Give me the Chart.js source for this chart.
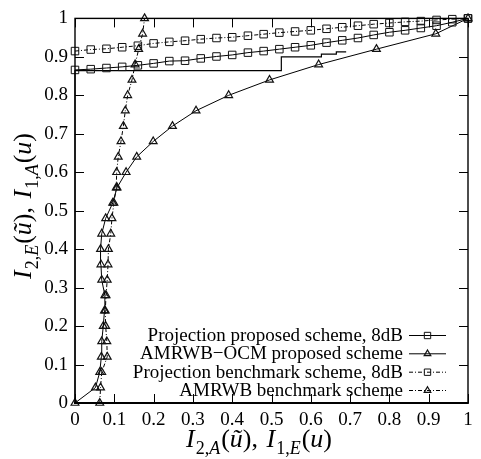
<!DOCTYPE html>
<html><head><meta charset="utf-8">
<script src="https://cdn.jsdelivr.net/npm/chart.js@4/dist/chart.umd.min.js"></script>
<style>html,body{margin:0;padding:0;background:#fff}#wrap{width:481px;height:459px}</style>
</head><body><div id="wrap"><canvas id="c" width="481" height="459"></canvas></div>
<script>
// Mutual-information sampling grid
const infoGrid = [0, 0.04, 0.08, 0.12, 0.16, 0.2, 0.24, 0.28, 0.32, 0.36, 0.4, 0.44, 0.48, 0.52, 0.56, 0.6, 0.64, 0.68, 0.72, 0.76, 0.8, 0.84, 0.88, 0.92, 0.96, 1];
// Projection proposed scheme, 8dB (x = infoGrid)
const projProposedY = [0.866, 0.868, 0.871, 0.874, 0.878, 0.883, 0.889, 0.890, 0.896, 0.901, 0.905, 0.911, 0.915, 0.920, 0.925, 0.930, 0.937, 0.943, 0.949, 0.957, 0.964, 0.969, 0.975, 0.981, 0.990, 1.0];
// AMRWB-OCM proposed scheme (y = infoGrid)
const ocmProposedX = [0, 0.052, 0.063, 0.067, 0.068, 0.072, 0.075, 0.076, 0.068, 0.066, 0.065, 0.068, 0.078, 0.096, 0.107, 0.130, 0.157, 0.199, 0.248, 0.308, 0.391, 0.495, 0.620, 0.767, 0.918, 1.0];
// Projection benchmark scheme, 8dB (x = infoGrid)
const projBenchY = [0.915, 0.919, 0.921, 0.925, 0.929, 0.935, 0.939, 0.942, 0.946, 0.949, 0.951, 0.955, 0.959, 0.963, 0.966, 0.969, 0.973, 0.977, 0.981, 0.985, 0.988, 0.991, 0.993, 0.996, 0.998, 1.0];
// AMRWB benchmark scheme (y = infoGrid)
const amrBenchX = [0.063, 0.065, 0.068, 0.082, 0.081, 0.078, 0.077, 0.079, 0.082, 0.084, 0.085, 0.091, 0.094, 0.099, 0.105, 0.106, 0.110, 0.117, 0.123, 0.128, 0.134, 0.145, 0.153, 0.162, 0.172, 0.177];
// Decoding trajectory
const trajX = [0, 0, 0.525, 0.525, 0.627, 0.627, 0.665, 0.665, 0.690];
const trajY = [0, 0.864, 0.864, 0.900, 0.900, 0.907, 0.907, 0.913, 0.913];

const seriesLabels = ['Projection proposed scheme, 8dB', 'AMRWB\u2212OCM proposed scheme', 'Projection benchmark scheme, 8dB', 'AMRWB benchmark scheme'];
const xTickLabels = ['0', '0.1', '0.2', '0.3', '0.4', '0.5', '0.6', '0.7', '0.8', '0.9', '1'];
const yTickLabels = ['0', '0.1', '0.2', '0.3', '0.4', '0.5', '0.6', '0.7', '0.8', '0.9', '1'];

const zip = (xs, ys) => xs.map((x, i) => ({x: x, y: ys[i]}));
const SERIF = '"Liberation Serif", "DejaVu Serif", serif';
const dashDot = [4, 2, 1, 2];

function series(label, pts, style, dash, r, bw) {
  return {
    label: label, data: pts, showLine: true, tension: 0,
    borderColor: '#000', borderWidth: 1, borderDash: dash,
    pointStyle: style, pointRadius: r, pointBorderWidth: bw,
    pointBackgroundColor: 'rgba(0,0,0,0)', pointBorderColor: '#111',
    clip: false
  };
}

const datasets = [
  series(seriesLabels[0], zip(infoGrid, projProposedY), 'rect', [], 5.3, 1),
  series(seriesLabels[1], zip(ocmProposedX, infoGrid), 'triangle', [], 4.5, 1.2),
  series(seriesLabels[2], zip(infoGrid, projBenchY), 'rect', dashDot, 5.3, 1),
  series(seriesLabels[3], zip(amrBenchX, infoGrid), 'triangle', dashDot, 4.5, 1.2),
  {label: 'trajectory', data: zip(trajX, trajY), showLine: true, tension: 0,
   borderColor: '#000', borderWidth: 1.2, pointRadius: 0, clip: false}
];

function layoutMath(ctx, parts, size) {
  const subSize = Math.round(size * 0.7);
  let w = 0;
  const items = parts.map(p => {
    const fs = p.sub ? subSize : size;
    ctx.font = (p.it ? 'italic ' : '') + fs + 'px ' + SERIF;
    const m = ctx.measureText(p.t).width + (p.gap || 0);
    const it = {p: p, font: ctx.font, x: w, dy: p.sub ? size * 0.28 : 0};
    w += m;
    return it;
  });
  return {w: w, items: items};
}
function renderMath(ctx, parts, size, cx, baseY) {
  const lay = layoutMath(ctx, parts, size);
  const x0 = cx - lay.w / 2;
  ctx.fillStyle = '#000';
  ctx.textBaseline = 'alphabetic';
  ctx.textAlign = 'left';
  lay.items.forEach(it => {
    ctx.font = it.font;
    ctx.fillText(it.p.t, x0 + it.x, baseY + it.dy);
  });
}
const xTitleParts = [
  {t: 'I', it: true, gap: 1}, {t: '2,', sub: true}, {t: 'A', sub: true, it: true, gap: 1},
  {t: '('}, {t: '\u0169', it: true}, {t: ')'}, {t: ', ', gap: 2},
  {t: 'I', it: true, gap: 1}, {t: '1,', sub: true}, {t: 'E', sub: true, it: true, gap: 1},
  {t: '('}, {t: 'u', it: true}, {t: ')'}
];
const yTitleParts = [
  {t: 'I', it: true, gap: 1}, {t: '2,', sub: true}, {t: 'E', sub: true, it: true, gap: 1},
  {t: '('}, {t: '\u0169', it: true}, {t: ')'}, {t: ', ', gap: 2},
  {t: 'I', it: true, gap: 1}, {t: '1,', sub: true}, {t: 'A', sub: true, it: true, gap: 1},
  {t: '('}, {t: 'u', it: true}, {t: ')'}
];

const decorPlugin = {
  id: 'decor',
  afterDatasetsDraw(chart) {
    const ctx = chart.ctx, a = chart.chartArea;
    const xs = chart.scales.x, ys = chart.scales.y;
    ctx.save();
    ctx.strokeStyle = '#000';
    ctx.lineWidth = 1;
    const tl = 9;
    xs.ticks.forEach(t => {
      const px = Math.round(xs.getPixelForValue(t.value)) + 0.5;
      ctx.beginPath();
      ctx.moveTo(px, a.bottom); ctx.lineTo(px, a.bottom - tl);
      ctx.moveTo(px, a.top); ctx.lineTo(px, a.top + tl);
      ctx.stroke();
    });
    ys.ticks.forEach(t => {
      const py = Math.round(ys.getPixelForValue(t.value)) + 0.5;
      ctx.beginPath();
      ctx.moveTo(a.left, py); ctx.lineTo(a.left + tl, py);
      ctx.moveTo(a.right, py); ctx.lineTo(a.right - tl, py);
      ctx.stroke();
    });
    ctx.lineWidth = 1.4;
    ctx.strokeRect(a.left, a.top, a.right - a.left, a.bottom - a.top);
    ctx.lineWidth = 2;
    ctx.beginPath(); ctx.moveTo(a.left - 1, a.bottom); ctx.lineTo(a.right + 0.7, a.bottom); ctx.stroke();

    // legend
    const rows = [335, 353.3, 371.7, 390];
    ctx.font = '19px ' + SERIF;
    ctx.textAlign = 'right';
    ctx.textBaseline = 'middle';
    for (let i = 0; i < 4; i++) {
      const ds = chart.data.datasets[i];
      const y = rows[i];
      ctx.fillStyle = '#000';
      ctx.fillText(ds.label, 403, y + 1);
      ctx.setLineDash(ds.borderDash || []);
      ctx.lineWidth = 1;
      ctx.beginPath(); ctx.moveTo(409, y + 0.5); ctx.lineTo(446, y + 0.5); ctx.stroke();
      ctx.setLineDash([]);
      ctx.fillStyle = 'rgba(0,0,0,0)';
      ctx.strokeStyle = '#111';
      ctx.lineWidth = ds.pointBorderWidth;
      Chart.helpers.drawPoint(ctx, {pointStyle: ds.pointStyle, radius: ds.pointRadius * 0.85, rotation: 0, borderWidth: 1}, 427.5, y + 0.5);
      ctx.strokeStyle = '#000';
    }

    // axis titles
    renderMath(ctx, xTitleParts, 26, 259, 447);
    ctx.save();
    ctx.translate(31, 206);
    ctx.rotate(-Math.PI / 2);
    renderMath(ctx, yTitleParts, 26, 0, 0);
    ctx.restore();
    ctx.restore();
  }
};

new Chart(document.getElementById('c'), {
  type: 'scatter',
  data: {datasets: datasets},
  plugins: [decorPlugin],
  options: {
    responsive: false, animation: false, devicePixelRatio: 1,
    layout: {autoPadding: false, padding: {left: 0, right: 13, top: 10, bottom: 0}},
    plugins: {legend: {display: false}, tooltip: {enabled: false}},
    scales: {
      x: {
        type: 'linear', min: 0, max: 1,
        afterFit: s => { s.height = 56; },
        grid: {display: true, drawOnChartArea: false, drawTicks: false},
        border: {display: false},
        ticks: {stepSize: 0.1, padding: 6, color: '#000', font: {family: SERIF, size: 19},
          maxRotation: 0, autoSkip: false,
          callback: v => xTickLabels[Math.round(v * 10)]}
      },
      y: {
        type: 'linear', min: 0, max: 1,
        afterFit: s => { s.width = 75; },
        grid: {display: true, drawOnChartArea: false, drawTicks: false},
        border: {display: false},
        ticks: {stepSize: 0.1, padding: 7, color: '#000', font: {family: SERIF, size: 19},
          autoSkip: false,
          callback: v => yTickLabels[Math.round(v * 10)]}
      }
    }
  }
});
</script>
</body></html>
